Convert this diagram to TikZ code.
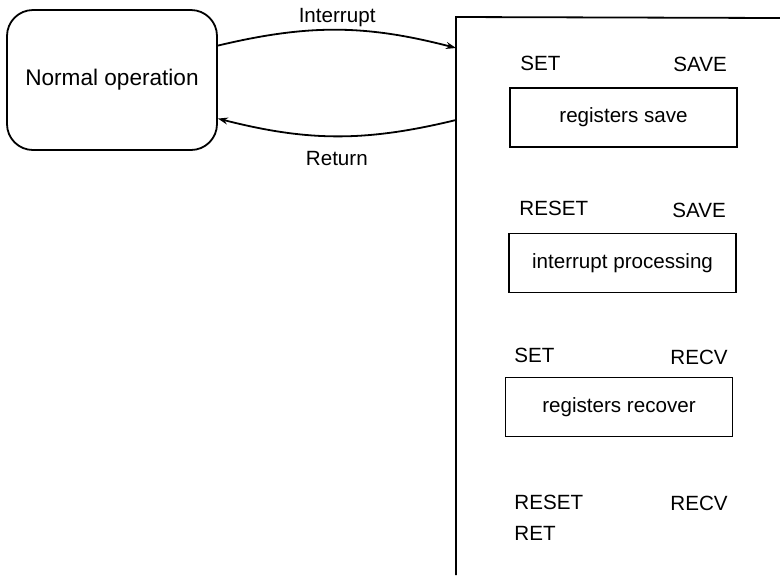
\documentclass[tikz,border=0pt]{standalone}
\usepackage{fontspec}
\setmainfont{Liberation Sans}
\usetikzlibrary{arrows.meta}

\tikzset{
    txt/.style={font=\fontsize{10.3}{12}\selectfont, inner sep=0pt},
    flag/.style={txt, anchor=west},
    procbox/.style={draw, line width=0.9pt, txt, minimum width=113.5pt, minimum height=29.5pt},
    link/.style={line width=0.9pt, -{Stealth[length=5pt, width=3.5pt]}},
}

\begin{document}
\begin{tikzpicture}[x=0.5pt, y=-0.5pt]
        \useasboundingbox (0,0) rectangle (780,575);

        % --- NORMAL OPERATION ---
        \node[draw, line width=0.9pt, rounded corners=13pt, minimum width=105pt, minimum height=70pt,
              font=\fontsize{11.3}{13}\selectfont] (normal) at (112, 80) {Normal operation};

        % --- INTERRUPT ROUTINE PANEL ---
        \draw[line width=0.9pt] (780, 18) -- (456, 17) -- (456, 575);
        \coordinate (intin) at (456, 48);
        \coordinate (retout) at (456, 120);

        % Connectors
        \draw[link] (normal.18) to[bend left=14] node[midway, above=1pt, txt] (intlbl) {Interrupt} (intin);
        \draw[link] (retout) to[bend left=14] node[midway, below=7pt, txt] (retlbl) {Return} (normal.-20);

        % Steps
        \node[flag] (set1) at (520, 63) {SET};
        \node[flag] (save1) at (673, 64) {SAVE};
        \node[procbox] (regsave) at (623.5, 117.5) {registers save};

        \node[flag] (reset1) at (519, 208) {RESET};
        \node[flag] (save2) at (672, 210) {SAVE};
        \node[procbox] (intproc) at (622.5, 263) {interrupt processing};

        \node[flag] (set2) at (514, 355) {SET};
        \node[flag] (recv1) at (670, 357) {RECV};
        \node[procbox] (regrecv) at (619, 407) {registers recover};

        \node[flag] (reset2) at (514, 502) {RESET};
        \node[flag] (recv2) at (670, 503) {RECV};
        \node[flag] (ret) at (514, 533) {RET};

    \end{tikzpicture}
\end{document}
